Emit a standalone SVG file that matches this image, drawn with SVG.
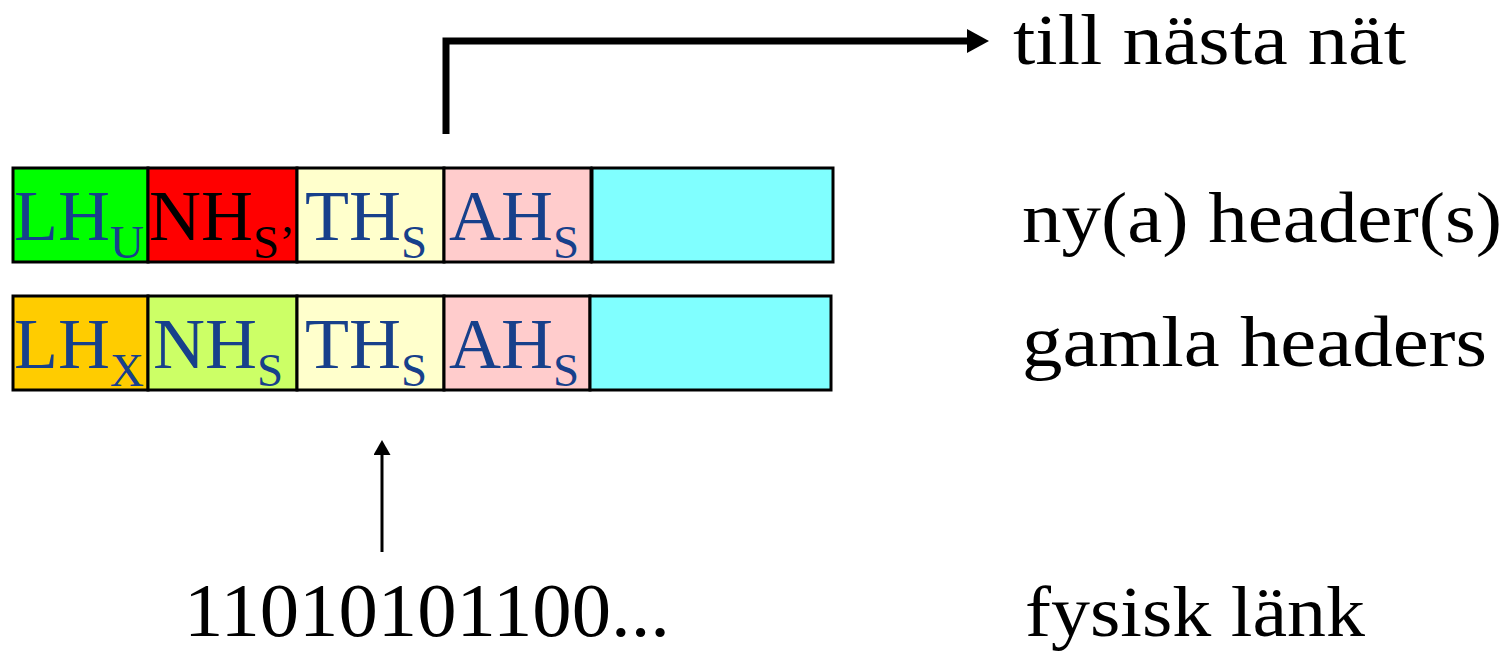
<svg xmlns="http://www.w3.org/2000/svg" width="1511" height="654" viewBox="0 0 1511 654">
<style>
.box{stroke:#000;stroke-width:3}
.lbl{font-family:"Liberation Serif",serif;font-size:72px;fill:#17408B}
.sub{font-size:47px}
.txt{font-family:"Liberation Serif",serif;font-size:72px;fill:#000}
</style>
<defs>
<marker id="ah" markerWidth="15" markerHeight="17" refX="0" refY="8.5" orient="auto" markerUnits="userSpaceOnUse"><path d="M0,0 L15,8.5 L0,17 z" fill="#000"/></marker>
<marker id="ah2" markerWidth="22" markerHeight="24" refX="0" refY="12" orient="auto" markerUnits="userSpaceOnUse"><path d="M0,0 L22,12 L0,24 z" fill="#000"/></marker>
</defs>
<rect width="1511" height="654" fill="#fff"/>
<g id="new-row">
<g id="lhu"><rect class="box" x="13" y="168" width="135" height="94" fill="#00FF00"/><text class="lbl" x="14" y="240">LH<tspan class="sub" dy="18">U</tspan></text></g>
<g id="nhs2"><rect class="box" x="148" y="168" width="149" height="94" fill="#FF0000"/><text class="lbl" x="149" y="240" style="fill:#000">NH<tspan class="sub" dy="18">S’</tspan></text></g>
<g id="ths1"><rect class="box" x="297" y="168" width="147" height="94" fill="#FFFFCC"/><text class="lbl" x="305" y="240">TH<tspan class="sub" dy="18">S</tspan></text></g>
<g id="ahs1"><rect class="box" x="444" y="168" width="147" height="94" fill="#FFCCCC"/><text class="lbl" x="449" y="240">AH<tspan class="sub" dy="18">S</tspan></text></g>
<g id="data1"><rect class="box" x="592" y="168" width="241" height="94" fill="#80FFFF"/></g>
</g>
<g id="old-row">
<g id="lhx"><rect class="box" x="13" y="296" width="135" height="94" fill="#FFCC00"/><text class="lbl" x="14" y="368">LH<tspan class="sub" dy="18">X</tspan></text></g>
<g id="nhs"><rect class="box" x="148" y="296" width="149" height="94" fill="#CCFF66"/><text class="lbl" x="153" y="368">NH<tspan class="sub" dy="18">S</tspan></text></g>
<g id="ths2"><rect class="box" x="297" y="296" width="147" height="94" fill="#FFFFCC"/><text class="lbl" x="305" y="368">TH<tspan class="sub" dy="18">S</tspan></text></g>
<g id="ahs2"><rect class="box" x="444" y="296" width="146" height="94" fill="#FFCCCC"/><text class="lbl" x="449" y="368">AH<tspan class="sub" dy="18">S</tspan></text></g>
<g id="data2"><rect class="box" x="590" y="296" width="241" height="94" fill="#80FFFF"/></g>
</g>
<g id="connectors">
<path d="M446,134 V41 H967" fill="none" stroke="#000" stroke-width="7" marker-end="url(#ah2)"/>
<line x1="382" y1="552" x2="382" y2="455" stroke="#000" stroke-width="3" marker-end="url(#ah)"/>
</g>
<g id="labels">
<text class="txt" x="1013" y="64" textLength="393" lengthAdjust="spacingAndGlyphs">till nästa nät</text>
<text class="txt" x="1022" y="242" textLength="480" lengthAdjust="spacingAndGlyphs">ny(a) header(s)</text>
<text class="txt" x="1022" y="366" textLength="465" lengthAdjust="spacingAndGlyphs">gamla headers</text>
<text class="txt" x="1025" y="636" textLength="340" lengthAdjust="spacingAndGlyphs">fysisk länk</text>
<text class="txt" x="184" y="636" style="font-size:76px" textLength="486" lengthAdjust="spacingAndGlyphs">11010101100...</text>
</g>
</svg>
